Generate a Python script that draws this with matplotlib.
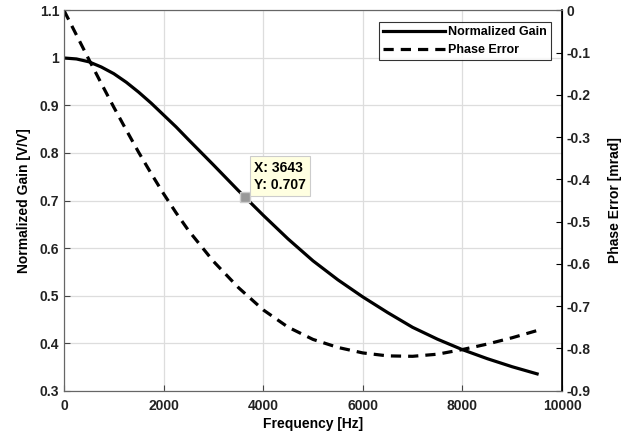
import numpy as np
import matplotlib.pyplot as plt

plt.rcParams['font.family'] = ['Liberation Sans', 'DejaVu Sans']
plt.rcParams['font.weight'] = 'bold'
plt.rcParams['axes.labelweight'] = 'bold'
plt.rcParams['font.size'] = 10

# values
freq = [0, 250, 500, 750, 1000, 1250, 1500, 1750, 2000, 2250, 2500, 3000,
        3500, 4000, 4500, 5000, 5500, 6000, 6500, 7000, 7500, 8000, 8500,
        9000, 9500]
gain = [1.0, 0.998, 0.992, 0.981, 0.967, 0.949, 0.928, 0.905, 0.880, 0.855,
        0.828, 0.775, 0.721, 0.669, 0.619, 0.573, 0.533, 0.497, 0.464, 0.433,
        0.408, 0.386, 0.367, 0.350, 0.335]
phase = [0.0, -0.058, -0.116, -0.173, -0.229, -0.283, -0.336, -0.386, -0.434,
         -0.479, -0.521, -0.594, -0.656, -0.709, -0.750, -0.779, -0.798,
         -0.811, -0.818, -0.819, -0.814, -0.803, -0.790, -0.775, -0.758]

tip_x, tip_y = 3643, 0.707

fig = plt.figure(figsize=(6.38, 4.41), dpi=100)
ax = fig.add_axes([0.1003, 0.1145, 0.7806, 0.8617])
ax2 = ax.twinx()

l1, = ax.plot(freq, gain, color='black', lw=2.3, solid_joinstyle='round',
              label='Normalized Gain')
l2, = ax2.plot(freq, phase, color='black', lw=2.3, ls=(0, (3.2, 2.2)),
               dash_joinstyle='round', label='Phase Error')

ax.set_xlim(0, 10000)
ax.set_ylim(0.3, 1.1)
ax2.set_ylim(-0.9, 0)
ax.set_xticks(np.arange(0, 10001, 2000))
ax.set_yticks(np.round(np.arange(0.3, 1.11, 0.1), 1))
ax.set_yticklabels(['0.3', '0.4', '0.5', '0.6', '0.7', '0.8', '0.9', '1', '1.1'])
ax2.set_yticks(np.round(np.arange(-0.9, 0.01, 0.1), 1))
ax2.set_yticklabels(['-0.9', '-0.8', '-0.7', '-0.6', '-0.5', '-0.4', '-0.3', '-0.2', '-0.1', '0'])

ax.grid(True, color='#dddddd', lw=0.9)
ax.set_axisbelow(True)
ax.tick_params(direction='in', length=4, colors='#444444', labelcolor='#222222')
ax.tick_params(axis='x', pad=6)
ax2.tick_params(direction='in', length=4, colors='black', labelcolor='#222222')
for s in ['left', 'bottom', 'top']:
    ax.spines[s].set_color('#666666')
    ax2.spines[s].set_color('#666666')
ax2.spines['right'].set_color('black')
ax2.spines['right'].set_linewidth(1.2)

ax.set_xlabel('Frequency [Hz]', labelpad=3)
ax.set_ylabel('Normalized Gain [V/V]', labelpad=6)
ax2.set_ylabel('Phase Error [mrad]', labelpad=12)

# data tip
ax.plot([tip_x], [tip_y], marker='s', ms=7, mfc='#999999', mec='#cccccc', zorder=5)
ax.annotate(f'X: {tip_x}\nY: {tip_y}', xy=(tip_x, tip_y), xytext=(6, 6),
            textcoords='offset points', fontsize=10, linespacing=1.3,
            bbox=dict(boxstyle='square,pad=0.3', fc='#ffffe1', ec='#cccccc', lw=0.8),
            zorder=6)

leg = ax.legend(handles=[l1, l2], loc='upper right', bbox_to_anchor=(0.978, 0.97),
                borderaxespad=0, fontsize=9, frameon=True, fancybox=False,
                handlelength=5.0, borderpad=0.35, labelspacing=0.45, handletextpad=0.2)
leg.get_frame().set_edgecolor('black')
leg.get_frame().set_linewidth(0.8)

fig.savefig('out.png', dpi=100)
